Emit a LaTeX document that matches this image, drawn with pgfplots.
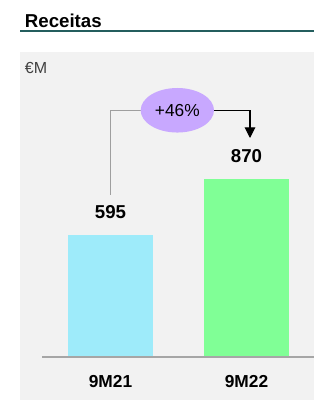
\documentclass[border=0pt]{standalone}
\usepackage{pgfplots}
\pgfplotsset{compat=1.18}
\usepackage{fontspec}
\setmainfont{Liberation Sans}
\usetikzlibrary{arrows.meta}
\definecolor{panel}{HTML}{F2F2F2}
\definecolor{teal}{HTML}{245E5E}
\definecolor{barA}{HTML}{9EEBFA}
\definecolor{barB}{HTML}{80FF96}
\definecolor{ell}{HTML}{C8A8FF}
\begin{document}
\begin{tikzpicture}
\useasboundingbox (0,0) rectangle (235.5pt,300pt);
\fill[white] (0,0) rectangle (235.5pt,300pt);
\fill[panel] (15pt,0) rectangle (235.5pt,261pt);
\draw[teal, line width=1.5pt] (15pt,276.75pt) -- (235.5pt,276.75pt);
\node[anchor=base west, inner sep=0, font=\fontsize{14}{15}\selectfont\bfseries] at (18.5pt,279.5pt) {Receitas};
\node[anchor=west, inner sep=0, text=black!75, font=\fontsize{12}{13}\selectfont] at (18.5pt,249pt) {€M};
\begin{axis}[
  at={(82.9pt,32.25pt)}, anchor=origin,
  width=204pt, height=153.2pt, scale only axis,
  xmin=-0.5, xmax=1.5, ymin=0, ymax=1000,
  axis lines=none, clip=false,
  xtick=\empty, ytick=\empty,
]
\addplot[ybar, bar width=63.75pt, draw=none, fill=barA] coordinates {(0,595)};
\addplot[ybar, bar width=63.75pt, draw=none, fill=barB] coordinates {(1,870)};
\addplot[only marks, mark=none, nodes near coords, point meta=explicit symbolic,
  every node near coord/.style={anchor=south, inner sep=0, yshift=12.5pt, font=\fontsize{14}{16}\selectfont\bfseries}]
  coordinates {(0,595)[595] (1,870)[870]};
\addplot[only marks, mark=none, nodes near coords, point meta=explicit symbolic,
  every node near coord/.style={anchor=center, inner sep=0, font=\fontsize{13}{16}\selectfont\bfseries}]
  coordinates {(0,-122)[9M21] (1,-122)[9M22]};
\end{axis}
\draw[gray!70, line width=1.1pt] (31.5pt,32.25pt) -- (235.5pt,32.25pt);
\draw[gray!75, line width=0.7pt] (82.5pt,153.75pt) -- (82.5pt,217pt) -- (106pt,217pt);
\draw[black, line width=0.8pt, -{Triangle[width=8pt,length=8pt]}] (160pt,217pt) -- (187.5pt,217pt) -- (187.5pt,196.5pt);
\fill[ell] (133pt,217.3pt) ellipse [x radius=27.5pt, y radius=16.7pt];
\node[font=\fontsize{13}{15}\selectfont] at (133pt,217pt) {+46\%};
\end{tikzpicture}
\end{document}
